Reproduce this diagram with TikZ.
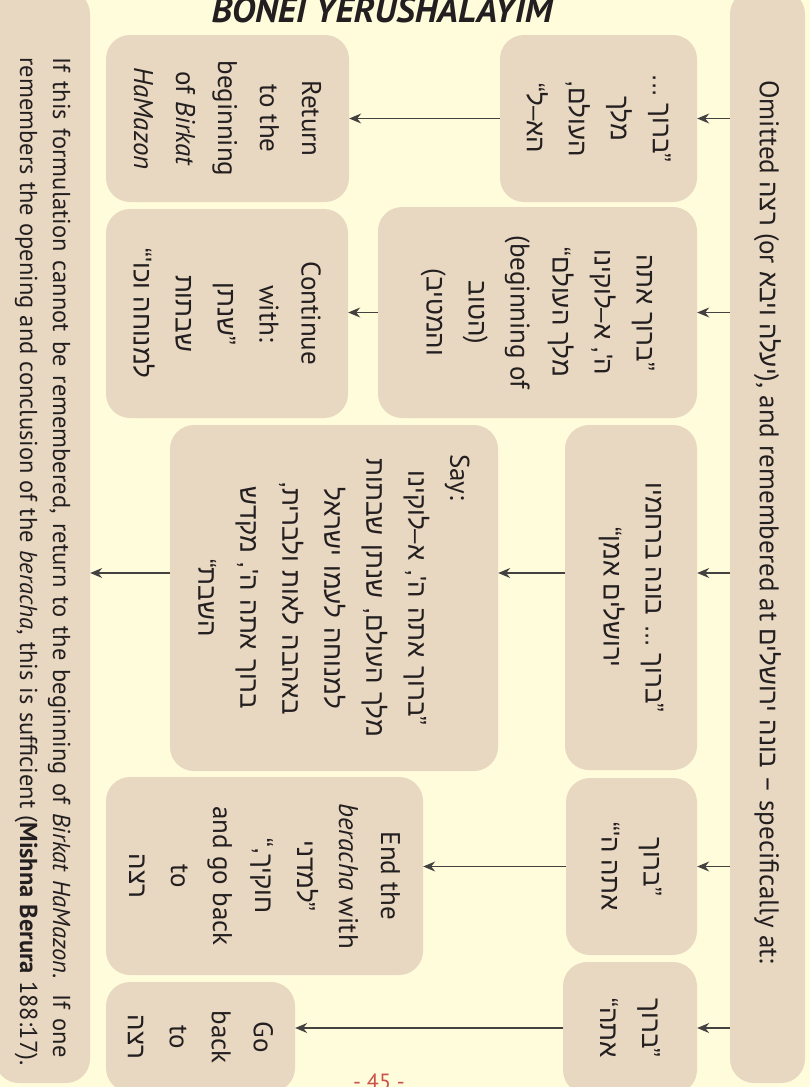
\documentclass[tikz,border=0pt]{standalone}
\usepackage{fontspec}
\setmainfont{PT Sans}
\newfontfamily\hebfont[Script=Hebrew,Scale=0.96]{Liberation Sans}
\TeXXeTstate=1
\usetikzlibrary{arrows.meta}
\definecolor{pagebg}{HTML}{FFFCDC}
\definecolor{boxfill}{HTML}{E9D8C1}
\definecolor{ink}{HTML}{231F20}
\definecolor{pagered}{HTML}{C9514B}
\newcommand{\he}[1]{{\hebfont\beginR#1\endR}}
\newcommand{\boxsize}{\fontsize{27}{42}\selectfont}

\begin{document}
\begin{tikzpicture}[x=1pt,y=-1pt,
        box/.style={rectangle,rounded corners=24pt,fill=boxfill,rotate=-90,
            align=center,inner sep=0pt,text=ink,font=\boxsize},
        arr/.style={-{Stealth[length=12pt,width=10pt,inset=4pt]},line width=1.1pt,draw=ink!85}]
    \useasboundingbox (0,0) rectangle (810,1087);
    \fill[pagebg] (0,0) rectangle (810,1087);
    % title and page number
    \node[anchor=base,inner sep=0pt,text=ink,font=\fontsize{36}{40}\selectfont\bfseries\itshape] (title) at (382,22) {BONEI YERUSHALAYIM};
    \node[anchor=north,inner sep=0pt,text=pagered,font=\fontsize{22}{26}\selectfont] (page) at (379,1074) {- 45 -};
    % the condition
    \node[box,minimum width=1093pt,minimum height=75pt] (R) at (767.5,536.5)
        {Omitted \he{רצה} (or \he{יעלה ויבא}), and remembered at \he{בונה ירושלים} – specifically at:\hspace*{29pt}};
    % where it is remembered
    \node[box,minimum width=167pt,minimum height=197pt] (A1) at (598.5,118.5)
        {\he{”ברוך ...}\\ \he{מלך}\\ \he{העולם,}\\ \he{הא–ל“}};
    \node[box,minimum width=211pt,minimum height=319pt] (A2) at (537.5,312.5)
        {\he{”ברוך אתה}\\ \he{ה', א–לוקינו}\\ \he{מלך העולם“}\\ (beginning of\\ \he{הטוב})\\ (\he{והמטיב}};
    \node[box,minimum width=345pt,minimum height=132pt] (A3) at (631,597.5)
        {\he{”ברוך ... בונה ברחמיו}\\ \he{ירושלים אמן“}};
    \node[box,minimum width=177pt,minimum height=131pt] (A4) at (631.5,866.5)
        {\he{”ברוך}\\ \he{אתה ה'“}};
    \node[box,minimum width=132pt,minimum height=134pt] (A5) at (630,1028)
        {\he{”ברוך}\\ \he{אתה“}};
    % what to do
    \node[box,minimum width=167pt,minimum height=243pt] (B1) at (227.5,118.5)
        {Return\\ to the\\ beginning\\ of \textit{Birkat}\\ \textit{HaMazon}};
    \node[box,minimum width=209pt,minimum height=242pt] (B2) at (227,313.5)
        {Continue\\ with:\\ \he{”שנתן}\\ \he{שבתות}\\ \he{למנוחה וכו'“}};
    \node[box,minimum width=346pt,minimum height=328pt,text width=312pt] (B3) at (334,598)
        {\makebox[\linewidth][l]{\hspace*{12pt}Say:}\\ \he{”ברוך אתה ה', א–לוקינו}\\ \he{מלך העולם, שנתן שבתות}\\
         \he{למנוחה לעמו ישראל}\\ \he{באהבה לאות ולברית,}\\ \he{ברוך אתה ה', מקדש}\\ \he{השבת“}};
    \node[box,minimum width=198pt,minimum height=317pt] (B4) at (264.5,876)
        {End the\\ \textit{beracha} with\\ \he{”למדני}\\ \he{חוקיך,“}\\ and go back\\ to\\ \he{רצה}};
    \node[box,minimum width=110pt,minimum height=189pt] (B5) at (200.5,1037)
        {Go\\ back\\ to\\ \he{רצה}};
    % fallback
    \node[box,minimum width=1093pt,minimum height=95pt,align=left,font=\fontsize{24.5}{33}\selectfont] (C) at (42.5,536.5)
        {\hspace*{50pt}\makebox[1000pt][s]{If this formulation cannot be remembered, return to the beginning of \textit{Birkat HaMazon}. If one}\\
         \hspace*{50pt}\makebox[1008pt][s]{remembers the opening and conclusion of the \textit{beracha}, this is sufficient (\textbf{Mishna Berura} 188:17).}};
    \coordinate (row3) at (0,573);
    \draw[arr] (R.south |- A1) -- (A1.north);
    \draw[arr] (A1.south) -- (B1.north |- A1);
    \draw[arr] (R.south |- A2) -- (A2.north);
    \draw[arr] (A2.south) -- (B2.north |- A2);
    \draw[arr] (R.south |- row3) -- (A3.north |- row3);
    \draw[arr] (A3.south |- row3) -- (B3.north |- row3);
    \draw[arr] (B3.south |- row3) -- (C.north |- row3);
    \draw[arr] (R.south |- A4) -- (A4.north);
    \draw[arr] (A4.south) -- (B4.north |- A4);
    \draw[arr] (R.south |- A5) -- (A5.north);
    \draw[arr] (A5.south) -- (B5.north |- A5);
\end{tikzpicture}
\end{document}
